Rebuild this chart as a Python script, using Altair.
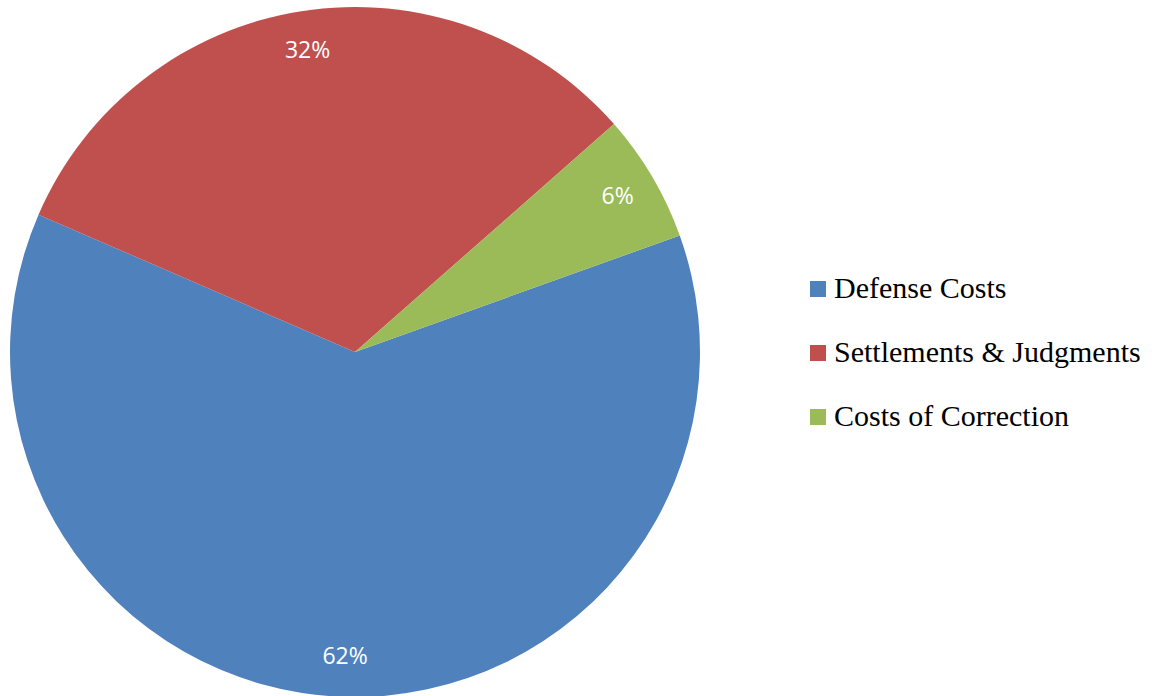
import altair as alt
import pandas as pd
import math

categories = ["Defense Costs", "Settlements & Judgments", "Costs of Correction"]
values = [62, 32, 6]
labels = ["62%", "32%", "6%"]
colors = ["#4F81BD", "#C0504D", "#9BBB59"]

df = pd.DataFrame({"category": categories, "value": values, "label": labels,
                   "order": list(range(len(categories)))})

start = math.radians(70.26)
theta_scale = alt.Scale(range=[start, start + 2 * math.pi])

base = alt.Chart(df).encode(
    theta=alt.Theta("value:Q", stack=True, scale=theta_scale),
    order=alt.Order("order:Q"),
    x=alt.value(355),
    y=alt.value(352),
)

pie = base.mark_arc(outerRadius=345, stroke=None).encode(
    color=alt.Color(
        "category:N",
        scale=alt.Scale(domain=categories, range=colors),
        sort=categories,
        legend=alt.Legend(
            title=None,
            orient="none",
            legendX=803,
            legendY=274,
            symbolType="square",
            symbolSize=256,
            symbolStrokeWidth=0,
            labelFont="Liberation Serif",
            labelFontSize=30,
            labelColor="#000000",
            labelOffset=1,
            rowPadding=34,
            labelLimit=400,
        ),
    )
)

text = base.mark_text(radius=305, font="Open Sans", fontSize=23, color="white").encode(
    text="label:N"
)

chart = (pie + text).properties(
    width=1164, height=696, autosize=alt.AutoSizeParams(type="none"), padding=0
).configure_view(stroke=None)

chart.save("out.html", embed_options={"renderer": "svg", "actions": False})
